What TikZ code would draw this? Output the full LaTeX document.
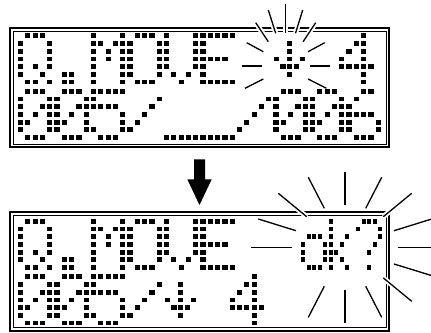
\documentclass[tikz,border=0pt]{standalone}
\usepackage{tikz}
\newcommand\GlyQ{1/0,2/0,3/0,0/1,4/1,0/2,4/2,0/3,4/3,0/4,2/4,4/4,0/5,3/5,1/6,2/6,4/6}
\newcommand\GlyDot{1/5,2/5,1/6,2/6}
\newcommand\GlyM{0/0,4/0,0/1,1/1,3/1,4/1,0/2,2/2,4/2,0/3,2/3,4/3,0/4,4/4,0/5,4/5,0/6,4/6}
\newcommand\GlyO{1/0,2/0,3/0,0/1,4/1,0/2,4/2,0/3,4/3,0/4,4/4,0/5,4/5,1/6,2/6,3/6}
\newcommand\GlyV{0/0,4/0,0/1,4/1,0/2,4/2,0/3,4/3,0/4,4/4,1/5,3/5,2/6}
\newcommand\GlyE{0/0,1/0,2/0,3/0,4/0,0/1,0/2,0/3,1/3,2/3,3/3,0/4,0/5,0/6,1/6,2/6,3/6,4/6}
\newcommand\GlyFour{3/0,2/1,3/1,1/2,3/2,0/3,3/3,0/4,1/4,2/4,3/4,4/4,3/5,3/6}
\newcommand\GlyZero{1/0,2/0,3/0,0/1,4/1,0/2,3/2,4/2,0/3,2/3,4/3,0/4,1/4,4/4,0/5,4/5,1/6,2/6,3/6}
\newcommand\GlyFive{0/0,1/0,2/0,3/0,4/0,0/1,0/2,1/2,2/2,3/2,4/3,4/4,0/5,4/5,1/6,2/6,3/6}
\newcommand\GlySlash{4/1,3/2,2/3,1/4,0/5}
\newcommand\GlyUnder{0/6,1/6,2/6,3/6,4/6}
\newcommand\GlySix{2/0,3/0,1/1,0/2,0/3,1/3,2/3,3/3,0/4,4/4,0/5,4/5,1/6,2/6,3/6}
\newcommand\GlySmallO{1/2,2/2,3/2,0/3,4/3,0/4,4/4,0/5,4/5,1/6,2/6,3/6}
\newcommand\GlySmallK{0/0,0/1,0/2,3/2,0/3,2/3,0/4,1/4,0/5,2/5,0/6,3/6}
\newcommand\GlyQmark{1/0,2/0,3/0,0/1,4/1,4/2,3/3,2/4,2/6}
\newcommand\GlyDown{2/1,2/2,0/3,2/3,4/3,1/4,2/4,3/4,2/5}
% #1 glyph, #2 x0, #3 y0, #4 column pitch, #5 dot width
\newcommand\putglyph[5]{%
  \foreach \gx/\gy in #1 {\fill[dotpx] ({#2+#4*\gx-#5/2},{#3+7.7*\gy-2.4}) rectangle ++(#5,4.8);}}
\begin{document}
\begin{tikzpicture}[x=1pt,y=-1pt,
  outerframe/.style={draw=black,line width=2pt},
  innerframe/.style={draw=black,line width=0.7pt},
  ray/.style={draw=black,line width=1.3pt},
  halo/.style={draw=white,line width=5pt},
  dotpx/.style={fill=black},
  blockarrow/.style={fill=black}]
\useasboundingbox (0,0) rectangle (431,332);
% frames
\draw[outerframe] (10.2,28.2) rectangle (389.4,147.3);
\draw[innerframe] (13.1,31.1) rectangle (386.5,144.4);
\draw[outerframe] (10.2,212.3) rectangle (389.4,330.5);
\draw[innerframe] (13.1,215.3) rectangle (386.5,327.6);
% block arrow
\fill[blockarrow] (194,159.3) -- (205,159.3) -- (205,179.3) -- (211.7,179.3)
  -- (199.5,205) -- (187.3,179.3) -- (194,179.3) -- cycle;
% sparkle display 1
\foreach \ax/\ay/\bx/\by in {285.7/4/285.7/33.3, 268.3/10/275.7/33.3, 302.7/10/295.5/33.3,
  255.7/22.7/268.3/41.7, 315.7/22.7/303.1/41.7, 246.7/42.7/263.3/51.7, 324.7/42.7/308.1/51.7,
  241.7/66/261.7/66, 309.7/66/329.7/66, 245/88.3/263.3/79, 308.1/79/326.4/88.3}
  {\draw[halo] (\ax,\ay) -- (\bx,\by);}
\foreach \ax/\ay/\bx/\by in {285.7/4/285.7/33.3, 268.3/10/275.7/33.3, 302.7/10/295.5/33.3,
  255.7/22.7/268.3/41.7, 315.7/22.7/303.1/41.7, 246.7/42.7/263.3/51.7, 324.7/42.7/308.1/51.7,
  241.7/66/261.7/66, 309.7/66/329.7/66, 245/88.3/263.3/79, 308.1/79/326.4/88.3}
  {\draw[ray] (\ax,\ay) -- (\bx,\by);}
% sparkle display 2
\foreach \ax/\ay/\bx/\by in {345/171.7/345/205, 308.3/177.3/324.3/208.3, 381.7/177.3/365.7/208.3,
  278.3/193.3/306.7/216.7, 411.7/193.3/383.3/216.7, 258.3/219/296/230.7, 431.7/219/394/230.7,
  250.7/247.3/291.7/247.3, 398.3/247.3/431/247.3, 394/264/431.7/275.6,
  383.3/277.9/411.7/301.3, 365.7/286.3/381.7/317.3, 345/289.6/345/322.9, 324.3/286.3/308.3/317.3}
  {\draw[halo] (\ax,\ay) -- (\bx,\by);}
\foreach \ax/\ay/\bx/\by in {345/171.7/345/205, 308.3/177.3/324.3/208.3, 381.7/177.3/365.7/208.3,
  278.3/193.3/306.7/216.7, 411.7/193.3/383.3/216.7, 258.3/219/296/230.7, 431.7/219/394/230.7,
  250.7/247.3/291.7/247.3, 398.3/247.3/431/247.3, 394/264/431.7/275.6,
  383.3/277.9/411.7/301.3, 365.7/286.3/381.7/317.3, 345/289.6/345/322.9, 324.3/286.3/308.3/317.3}
  {\draw[ray] (\ax,\ay) -- (\bx,\by);}
% display 1, line 1: Q.MOVE  <down> 4
\putglyph{\GlyQ}{20.5}{35.8}{7.3}{5.2}
\putglyph{\GlyDot}{57}{35.8}{7.3}{5.2}
\putglyph{\GlyM}{93.5}{35.8}{7.3}{5.2}
\putglyph{\GlyO}{130}{35.8}{7.3}{5.2}
\putglyph{\GlyV}{166.5}{35.8}{7.3}{5.2}
\putglyph{\GlyE}{203}{35.8}{7.3}{5.2}
\putglyph{\GlyDown}{276.3}{35.8}{6.6}{5.2}
\putglyph{\GlyFour}{341.7}{35.8}{7.3}{5.2}
% display 1, line 2: 005/__/006
\putglyph{\GlyZero}{20.5}{91.3}{7.3}{5.2}
\putglyph{\GlyZero}{57}{91.3}{7.3}{5.2}
\putglyph{\GlyFive}{93.5}{91.3}{7.3}{5.2}
\putglyph{\GlySlash}{130}{91.3}{7.3}{5.2}
\putglyph{\GlyUnder}{166.5}{91.3}{7.3}{5.2}
\putglyph{\GlyUnder}{203}{91.3}{7.3}{5.2}
\putglyph{\GlySlash}{239.5}{91.3}{7.3}{5.2}
\putglyph{\GlyZero}{276}{91.3}{7.3}{5.2}
\putglyph{\GlyZero}{312.5}{91.3}{7.3}{5.2}
\putglyph{\GlySix}{349}{91.3}{7.3}{5.2}
% display 2, line 1: Q.MOVE  ok?
\putglyph{\GlyQ}{20.5}{221.3}{7.3}{5.2}
\putglyph{\GlyDot}{57}{221.3}{7.3}{5.2}
\putglyph{\GlyM}{93.5}{221.3}{7.3}{5.2}
\putglyph{\GlyO}{130}{221.3}{7.3}{5.2}
\putglyph{\GlyV}{166.5}{221.3}{7.3}{5.2}
\putglyph{\GlyE}{203}{221.3}{7.3}{5.2}
\putglyph{\GlySmallO}{303.3}{221.3}{5.5}{4}
\putglyph{\GlySmallK}{330.8}{221.3}{5.5}{4}
\putglyph{\GlyQmark}{358.3}{221.3}{5.5}{4}
% display 2, line 2: 005/<down> 4
\putglyph{\GlyZero}{20.5}{276.8}{7.3}{5.2}
\putglyph{\GlyZero}{57}{276.8}{7.3}{5.2}
\putglyph{\GlyFive}{93.5}{276.8}{7.3}{5.2}
\putglyph{\GlySlash}{130}{276.8}{7.3}{5.2}
\putglyph{\GlyDown}{167.3}{276.8}{6.6}{5.2}
\putglyph{\GlyFour}{232.2}{276.8}{7.3}{5.2}
\end{tikzpicture}
\end{document}
